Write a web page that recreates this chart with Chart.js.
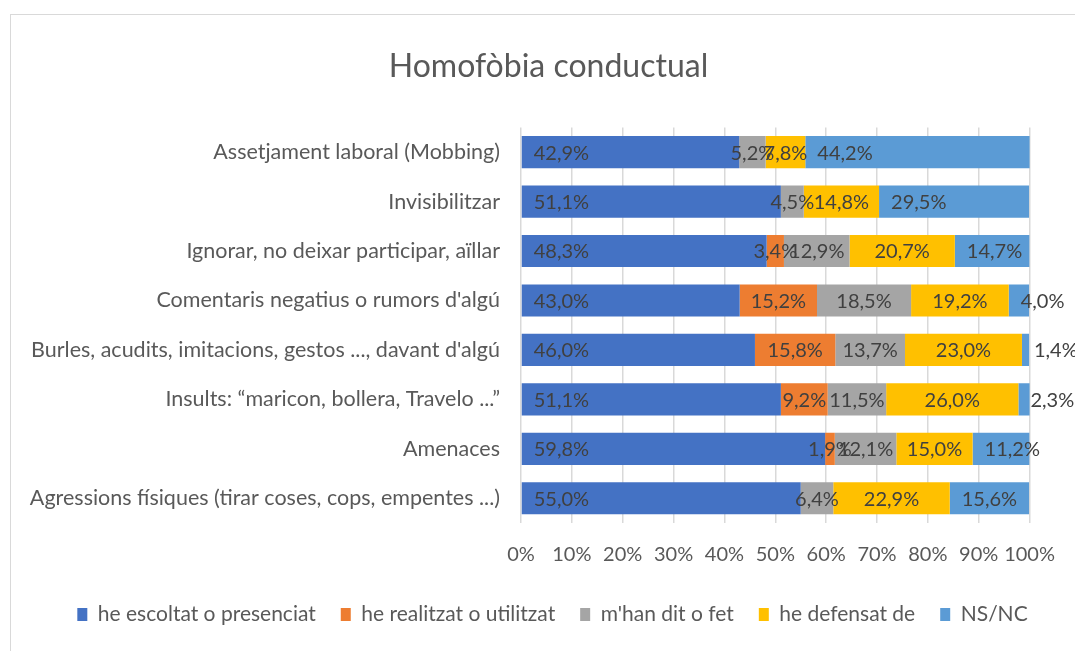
<!DOCTYPE html>
<html>
<head>
<meta charset="utf-8">
<script src="https://cdn.jsdelivr.net/npm/chart.js@4.4.1/dist/chart.umd.min.js"></script>
<style>
  html, body { margin: 0; padding: 0; background: #fff; }
  #wrap { position: relative; width: 1075px; height: 651px; overflow: hidden; }
  #frame { position: absolute; left: 10px; top: 14px; width: 1100px; height: 700px; border: 1px solid #d9d9d9; }
  #chart { position: absolute; left: 0; top: 0; }
</style>
</head>
<body>
<div id="wrap">
  <div id="frame"></div>
  <canvas id="chart" width="1075" height="651"></canvas>
</div>
<script>
const categories = [
  "Assetjament laboral (Mobbing)",
  "Invisibilitzar",
  "Ignorar, no deixar participar, aïllar",
  "Comentaris negatius o rumors d'algú",
  "Burles, acudits, imitacions, gestos ..., davant d'algú",
  "Insults: “maricon, bollera, Travelo ...”",
  "Amenaces",
  "Agressions físiques (tirar coses, cops, empentes ...)"
];
const seriesNames = ["he escoltat o presenciat", "he realitzat o utilitzat", "m'han dit o fet", "he defensat de", "NS/NC"];
const heard = [42.9, 51.1, 48.3, 43.0, 46.0, 51.1, 59.8, 55.0];
const done = [0, 0, 3.4, 15.2, 15.8, 9.2, 1.9, 0];
const toldMe = [5.2, 4.5, 12.9, 18.5, 13.7, 11.5, 12.1, 6.4];
const defended = [7.8, 14.8, 20.7, 19.2, 23.0, 26.0, 15.0, 22.9];
const nsnc = [44.2, 29.5, 14.7, 4.0, 1.4, 2.3, 11.2, 15.6];
const xTicks = [0, 10, 20, 30, 40, 50, 60, 70, 80, 90, 100];

const colors = ["#4472C4", "#ED7D31", "#A5A5A5", "#FFC000", "#5B9BD5"];
const FONT = "Lato, 'Open Sans', sans-serif";

const fmt = (v) => v.toFixed(1).replace(".", ",") + "%";

// data labels: first and last series sit at the bar base, the rest are centred
const barLabels = {
  id: "barLabels",
  afterDatasetsDraw(chart) {
    const ctx = chart.ctx;
    const last = chart.data.datasets.length - 1;
    ctx.save();
    ctx.font = `20px ${FONT}`;
    ctx.fillStyle = "#404040";
    ctx.textBaseline = "middle";
    chart.data.datasets.forEach((ds, di) => {
      const meta = chart.getDatasetMeta(di);
      meta.data.forEach((bar, i) => {
        const v = ds.data[i];
        if (!v) return;
        const left = Math.min(bar.x, bar.base);
        const right = Math.max(bar.x, bar.base);
        if (di === 0 || di === last) {
          ctx.textAlign = "left";
          ctx.fillText(fmt(v), left + 12, bar.y + 1);
        } else {
          ctx.textAlign = "center";
          ctx.fillText(fmt(v), (left + right) / 2, bar.y + 1);
        }
      });
    });
    ctx.restore();
  }
};

// title and legend are centred a bit right of the canvas centre
const shiftHeader = {
  id: "shiftHeader",
  afterLayout(chart) {
    if (chart.titleBlock) chart.titleBlock.left += 64;
    if (chart.legend) {
      chart.legend.left += 36;
      chart.legend.right += 36;
    }
  }
};

const seriesData = [heard, done, toldMe, defended, nsnc];

new Chart(document.getElementById("chart"), {
  type: "bar",
  data: {
    labels: categories,
    datasets: seriesData.map((d, i) => ({
      label: seriesNames[i],
      data: d,
      backgroundColor: colors[i],
      borderWidth: 0,
      barPercentage: 0.65,
      categoryPercentage: 1
    }))
  },
  options: {
    indexAxis: "y",
    responsive: false,
    animation: false,
    layout: { padding: { top: 0, right: 42, bottom: 16, left: 0 } },
    plugins: {
      title: {
        display: true,
        text: "Homofòbia conductual",
        color: "#595959",
        font: { family: FONT, size: 32, weight: "normal" },
        padding: { top: 47, bottom: 42 }
      },
      legend: {
        position: "bottom",
        labels: {
          color: "#595959",
          font: { family: FONT, size: 21 },
          boxWidth: 10,
          boxHeight: 13,
          padding: 25
        }
      },
      tooltip: { enabled: false }
    },
    scales: {
      x: {
        stacked: true,
        min: 0,
        max: 100,
        afterBuildTicks: (scale) => { scale.ticks = xTicks.map((v) => ({ value: v })); },
        afterFit: (scale) => { scale.height = 56; },
        grid: { color: "#d9d9d9", lineWidth: 1.5, drawTicks: false },
        border: { display: false },
        ticks: {
          color: "#595959",
          font: { family: FONT, size: 20 },
          padding: 20,
          maxRotation: 0,
          minRotation: 0,
          autoSkip: false,
          callback: (v) => v + "%"
        }
      },
      y: {
        stacked: true,
        afterFit: (scale) => { scale.width = 521; },
        grid: { display: false, drawTicks: false },
        border: { display: false },
        ticks: {
          color: "#595959",
          font: { family: FONT, size: 21.5 },
          padding: 21
        }
      }
    }
  },
  plugins: [barLabels, shiftHeader]
});
</script>
</body>
</html>
